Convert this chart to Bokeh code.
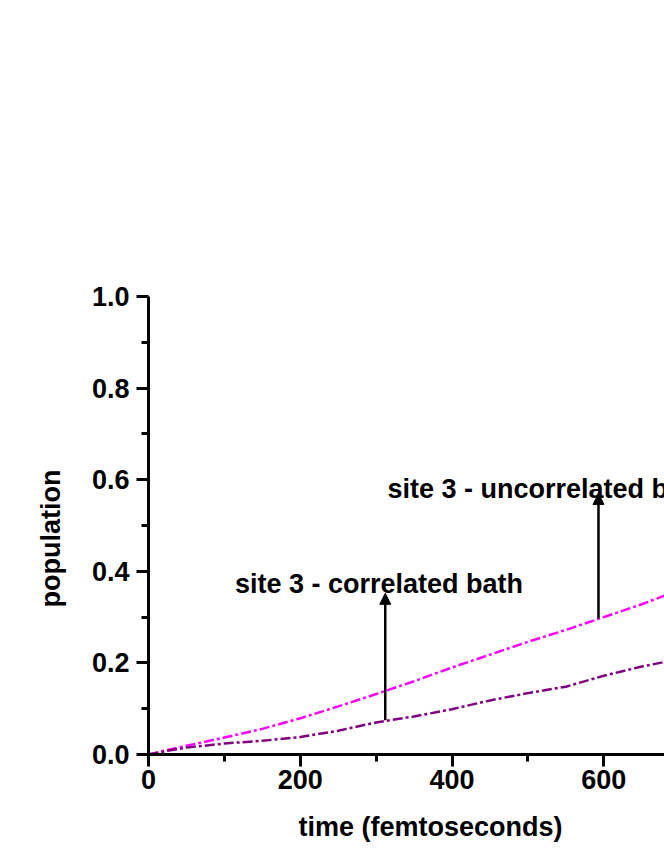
from bokeh.plotting import figure
from bokeh.models import (FixedTicker, PrintfTickFormatter, Label, Arrow, NormalHead,
                          Range1d, ColumnDataSource, Title)
from bokeh.embed import file_html
from bokeh.resources import INLINE

# ---- data ----
time_fs = [0, 25, 50, 100, 150, 200, 250, 300, 350, 400, 450, 500, 550, 600, 650, 680]
pop_uncorrelated = [0, 0.010, 0.019, 0.037, 0.056, 0.079, 0.105, 0.132, 0.160, 0.190,
                    0.218, 0.246, 0.272, 0.300, 0.328, 0.347]
pop_correlated = [0, 0.008, 0.015, 0.024, 0.030, 0.038, 0.052, 0.070, 0.083, 0.099,
                  0.118, 0.134, 0.148, 0.172, 0.192, 0.202]

x_ticks = [0, 200, 400, 600]
x_minor_ticks = [100, 300, 500]
y_ticks = [0.0, 0.2, 0.4, 0.6, 0.8, 1.0]
y_minor_ticks = [0.1, 0.3, 0.5, 0.7, 0.9]

label_correlated = "site 3 - correlated bath"
label_uncorrelated = "site 3 - uncorrelated bath"
x_title = "time (femtoseconds)"
y_title = "population"

# annotation anchors (data units)
arrow_corr = dict(x=312, y_start=0.075, y_end=0.352)
arrow_uncorr = dict(x=593, y_start=0.297, y_end=0.570)

FONT = "Liberation Sans"
FS = "27px"

p = figure(width=664, height=860, output_backend="svg", toolbar_location=None,
           x_range=Range1d(0, 680), y_range=Range1d(0, 1.0),
           min_border_left=148, min_border_right=0, min_border_top=296,
           min_border_bottom=106)
p.outline_line_color = None
p.xgrid.visible = False
p.ygrid.visible = False
p.background_fill_color = "white"
p.border_fill_color = "white"

src = ColumnDataSource(dict(t=time_fs, unc=pop_uncorrelated, cor=pop_correlated))
p.line("t", "unc", source=src, line_color="#FF00FF", line_width=2.5, line_dash="10 3 3 3")
p.line("t", "cor", source=src, line_color="#800080", line_width=2.5, line_dash="10 3 3 3")

for ax in (p.xaxis[0], p.yaxis[0]):
    ax.axis_line_width = 3
    ax.major_tick_line_width = 3
    ax.minor_tick_line_width = 3
    ax.major_tick_out = 12
    ax.major_tick_in = 0
    ax.minor_tick_out = 7
    ax.minor_tick_in = 0
    ax.major_label_text_font = FONT
    ax.major_label_text_font_style = "bold"
    ax.major_label_text_font_size = FS
    ax.major_label_text_color = "black"

p.xaxis.ticker = FixedTicker(ticks=x_ticks, minor_ticks=x_minor_ticks)
p.yaxis.ticker = FixedTicker(ticks=y_ticks, minor_ticks=y_minor_ticks)
p.yaxis.formatter = PrintfTickFormatter(format="%.1f")
p.xaxis.formatter = PrintfTickFormatter(format="%d")
p.xaxis.major_label_standoff = 3
p.yaxis.major_label_standoff = 7

common = dict(text_font=FONT, text_font_style="bold", text_font_size=FS, text_color="black")

p.add_layout(Label(x=114, y=0.373, text=label_correlated, text_align="left",
                   text_baseline="alphabetic", **common))
p.add_layout(Label(x=315, y=0.579, text=label_uncorrelated, text_align="left",
                   text_baseline="alphabetic", **common))

p.add_layout(Title(text=x_title, align="left", offset=150, standoff=37, **common), "below")
p.add_layout(Title(text=y_title, align="left", offset=147, standoff=45, **common), "left")

for a in (arrow_corr, arrow_uncorr):
    p.add_layout(Arrow(end=NormalHead(size=11, fill_color="black", line_color="black", line_width=1),
                       x_start=a["x"], y_start=a["y_start"], x_end=a["x"], y_end=a["y_end"],
                       line_color="black", line_width=2.5))

open("out.html", "w").write(file_html(p, INLINE))
